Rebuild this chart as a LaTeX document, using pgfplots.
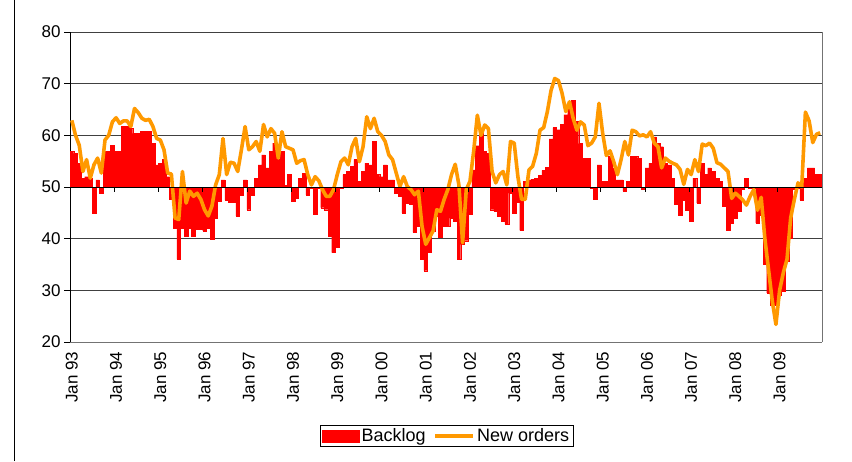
\documentclass[border=0pt]{standalone}
\usepackage{pgfplots}
\pgfplotsset{compat=1.18}
\usepackage{pgfplotstable}
\usepackage{fontspec}
\setmainfont{Liberation Sans}
\definecolor{barred}{RGB}{255,0,0}
\definecolor{lineorange}{RGB}{255,153,0}
\pgfplotstableread{
b n
56.9 62.9
56.5 60.0
54.6 58.1
51.7 53.0
52.0 55.3
51.7 51.7
45.0 54.3
51.4 55.6
48.8 52.7
56.9 59.1
56.9 60.0
58.1 62.6
56.9 63.4
56.9 62.3
61.7 62.8
61.7 62.8
61.3 61.7
60.4 65.2
60.4 64.4
60.8 63.3
60.8 62.9
60.8 63.1
58.5 61.7
54.3 59.4
54.6 59.1
55.3 57.2
52.0 52.7
47.6 52.5
42.1 44.0
36.0 43.7
42.1 53.0
40.5 46.9
42.1 49.2
40.5 48.2
41.8 48.8
41.8 47.6
41.5 45.6
42.1 44.4
39.9 46.3
44.0 50.4
47.2 52.4
51.4 59.4
47.5 52.4
47.0 54.8
47.0 54.6
44.4 53.0
48.5 57.2
51.4 61.7
45.6 57.2
48.5 57.8
51.7 58.8
54.3 56.9
56.2 62.1
53.7 59.7
56.9 61.3
58.5 60.4
55.3 55.6
56.9 60.7
50.3 57.8
52.4 57.5
47.2 57.2
47.9 54.6
51.7 55.1
52.7 55.3
48.5 52.4
49.8 50.4
44.7 52.0
49.8 51.2
46.0 49.5
45.6 48.2
40.5 48.2
37.3 49.5
38.3 52.4
49.8 54.9
52.4 55.6
53.0 54.3
54.0 57.8
55.3 59.4
51.1 54.9
53.0 57.8
54.6 63.6
54.3 61.3
58.8 63.3
52.4 60.7
52.0 60.0
54.3 58.8
51.4 56.2
51.4 55.3
48.8 52.7
48.2 50.1
45.0 52.0
46.9 50.1
46.6 49.5
41.2 48.5
42.4 49.2
36.0 42.4
33.8 38.9
37.3 40.2
41.5 41.5
44.4 45.6
40.2 45.3
42.4 47.6
42.4 49.5
44.0 52.4
43.4 54.4
36.0 50.4
38.9 39.2
39.6 49.5
44.7 51.1
53.3 56.9
58.0 63.9
60.5 60.0
56.9 62.0
56.5 61.3
45.6 53.0
45.3 50.8
44.4 52.4
43.4 53.0
42.8 50.4
48.8 58.8
45.0 58.5
47.0 52.0
41.6 47.6
51.1 47.6
51.4 53.3
51.5 54.0
51.7 56.5
52.2 61.0
53.2 61.5
53.8 64.6
59.3 68.7
61.5 71.0
61.1 70.6
62.1 68.1
64.0 64.6
65.3 66.5
66.8 63.3
62.7 61.0
58.4 62.6
55.6 62.0
55.6 58.0
49.8 58.5
47.6 59.7
54.3 66.2
51.1 60.4
51.1 56.1
55.9 57.0
53.7 54.9
51.4 52.4
51.4 55.3
49.2 58.8
51.1 56.2
55.9 61.0
55.9 60.7
55.6 59.9
49.5 60.1
53.7 59.7
54.6 60.7
59.7 58.5
58.5 57.8
57.8 53.7
54.6 55.6
54.3 55.0
51.7 54.6
46.6 54.3
44.6 53.4
47.5 50.5
45.5 53.4
43.4 52.4
51.7 55.3
46.9 53.0
54.6 58.3
52.4 58.0
53.7 58.5
53.0 57.5
51.7 54.7
51.1 54.4
46.3 53.7
41.7 53.0
43.0 47.8
44.0 48.8
45.3 48.2
49.5 47.5
51.7 46.5
49.8 48.2
49.8 49.5
43.0 45.5
44.6 48.0
35.0 40.0
29.5 34.0
27.2 28.0
27.2 23.4
29.0 30.0
29.8 33.4
35.6 36.0
40.1 44.0
49.5 47.6
49.8 50.8
47.5 50.0
51.7 64.5
53.7 62.8
53.7 58.6
52.4 60.2
52.4 60.5
}\data

\begin{document}
\begin{tikzpicture}[x=1pt,y=1pt]
\useasboundingbox (0,0) rectangle (852,461);
\draw[black, line width=0.8pt] (14,0) -- (14,461);
\begin{axis}[
  at={(70pt,119pt)}, anchor=south west,
  scale only axis, width=752pt, height=310pt,
  xmin=-0.5, xmax=203.5,
  ymin=-30, ymax=30,
  axis x line*=bottom, axis y line*=left,
  x axis line style={draw=black!55, line width=0.9pt, -},
  y axis line style={draw=black, line width=0.9pt, -},
  ymajorgrids, grid style={black!75, line width=0.9pt},
  ytick={-30,-20,...,30},
  yticklabels={20,30,40,50,60,70,80},
  ytick style={draw=black, line width=0.8pt},
  tick align=outside,
  major tick length=6pt,
  xtick={0,12,...,192},
  xticklabels={Jan 93,Jan 94,Jan 95,Jan 96,Jan 97,Jan 98,Jan 99,Jan 00,Jan 01,Jan 02,Jan 03,Jan 04,Jan 05,Jan 06,Jan 07,Jan 08,Jan 09},
  xtick style={draw=none},
  xticklabel style={rotate=90, anchor=east},
  tick label style={font=\fontsize{17}{20}\selectfont},
  legend style={at={(0.501,-0.303)}, anchor=center, legend columns=2, draw=black, line width=0.6pt,
    font=\fontsize{18}{21}\selectfont, inner xsep=2pt, inner ysep=1pt,
    /tikz/every even column/.append style={column sep=6pt}},
  clip=false,
]
\addplot[ybar, bar width=1, bar shift=0pt, fill=barred, draw=barred, line width=0.3pt,
  legend image code/.code={\fill[barred] (0pt,-6pt) rectangle (37pt,6pt);}]
  table[x expr=\coordindex, y expr=\thisrow{b}-50]{\data};
\addlegendentry{Backlog}
\addplot[lineorange, line width=3.6pt, line join=round, mark=none,
  legend image code/.code={\draw[lineorange, line width=3.6pt] (0pt,0pt) -- (38pt,0pt);}]
  table[x expr=\coordindex, y expr=\thisrow{n}-50]{\data};
\addlegendentry{New orders}
\draw[black, line width=0.9pt] (axis cs:-0.5,0) -- (axis cs:203.5,0);
\pgfplotsinvokeforeach{11.5,23.5,...,191.5}{\draw[black, line width=0.8pt] (axis cs:#1,0) -- ++(0pt,-5pt);}
\draw[black!55, line width=0.9pt] (rel axis cs:1,0) -- (rel axis cs:1,1);
\end{axis}
\end{tikzpicture}
\end{document}
